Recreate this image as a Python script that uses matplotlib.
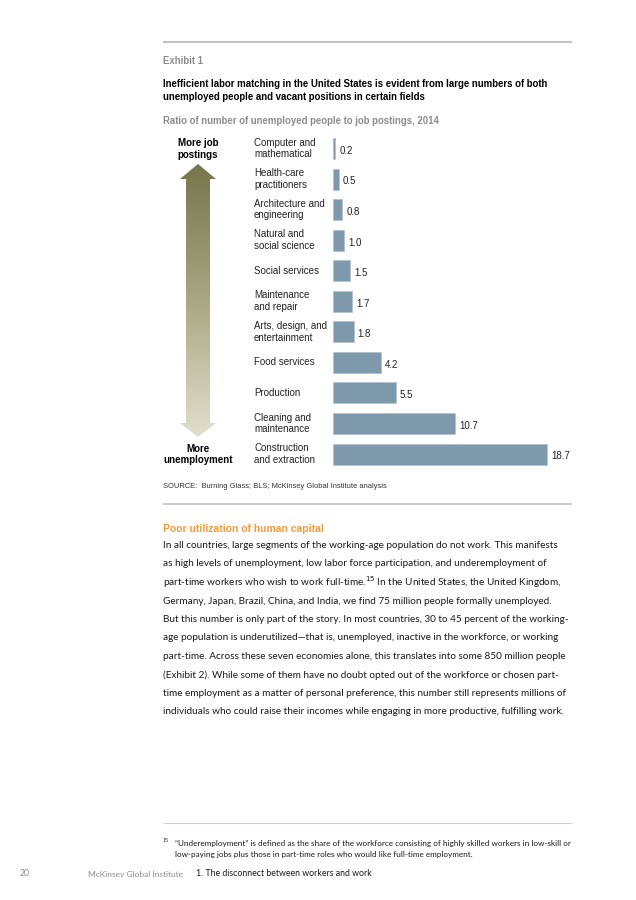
import matplotlib
matplotlib.use("Agg")
import matplotlib.pyplot as plt
import numpy as np
from matplotlib.colors import LinearSegmentedColormap
from matplotlib.patches import Polygon

plt.rcParams["font.family"] = ["Liberation Sans", "DejaVu Sans"]

# ---- data ----
CATEGORIES = [
    "Computer and\nmathematical",
    "Health-care\npractitioners",
    "Architecture and\nengineering",
    "Natural and\nsocial science",
    "Social services",
    "Maintenance\nand repair",
    "Arts, design, and\nentertainment",
    "Food services",
    "Production",
    "Cleaning and\nmaintenance",
    "Construction\nand extraction",
]
RATIOS = [0.2, 0.5, 0.8, 1.0, 1.5, 1.7, 1.8, 4.2, 5.5, 10.7, 18.7]

EXHIBIT = "Exhibit 1"
TITLE = ("Inefficient labor matching in the United States is evident from large numbers of both\n"
         "unemployed people and vacant positions in certain fields")
SUBTITLE = "Ratio of number of unemployed people to job postings, 2014"
TOP_LABEL = "More job\npostings"
BOTTOM_LABEL = "More\nunemployment"
SOURCE = "SOURCE:  Burning Glass; BLS; McKinsey Global Institute analysis"

HEADING = "Poor utilization of human capital"
BODY_LINES = [
    "In all countries, large segments of the working-age population do not work. This manifests",
    "as high levels of unemployment, low labor force participation, and underemployment of",
    "part-time workers who wish to work full-time.$^{15}$ In the United States, the United Kingdom,",
    "Germany, Japan, Brazil, China, and India, we find 75 million people formally unemployed.",
    "But this number is only part of the story. In most countries, 30 to 45 percent of the working-",
    "age population is underutilized\u2014that is, unemployed, inactive in the workforce, or working",
    "part-time. Across these seven economies alone, this translates into some 850 million people",
    "(Exhibit 2). While some of them have no doubt opted out of the workforce or chosen part-",
    "time employment as a matter of personal preference, this number still represents millions of",
    "individuals who could raise their incomes while engaging in more productive, fulfilling work.",
]
FOOTNOTE_NUM = "15"
FOOTNOTE = ("\u201cUnderemployment\u201d is defined as the share of the workforce consisting of highly skilled workers in low-skill or\n"
            "low-paying jobs plus those in part-time roles who would like full-time employment.")
PAGE_NUM = "20"
PUBLISHER = "McKinsey Global Institute"
CHAPTER = "1. The disconnect between workers and work"

BAR_COLOR = "#7e99ab"
BAR_EDGE = "#b3c3ce"
RULE_GRAY = "#c2c2c2"
TEXT_GRAY = "#8c8c8c"
ORANGE = "#f39b3c"
ARROW_DARK = "#76754c"
ARROW_LIGHT = "#e0dfcd"
BODY_FONT = ["Lato", "DejaVu Sans"]

W, H = 636, 900

fig = plt.figure(figsize=(W / 100, H / 100), dpi=100)
page = fig.add_axes([0, 0, 1, 1])
page.set_xlim(0, W)
page.set_ylim(H, 0)
page.axis("off")

# rules
page.plot([163, 572], [42, 42], color=RULE_GRAY, lw=1.5, solid_capstyle="butt")
page.plot([163, 572], [504, 504], color=RULE_GRAY, lw=1.2, solid_capstyle="butt")
page.plot([163, 572], [823, 823], color="#d0d0d0", lw=0.8, solid_capstyle="butt")

# headers
page.text(163, 61, EXHIBIT, fontsize=6.9, fontweight="bold", color=TEXT_GRAY, va="center")
page.text(163, 90.5, TITLE, fontsize=6.9, fontweight="bold", color="black",
          va="center", linespacing=1.3)
page.text(163, 121, SUBTITLE, fontsize=6.9, fontweight="bold", color=TEXT_GRAY, va="center")

# double-headed gradient arrow
arrow_pts = [(198, 164), (216, 179), (210, 179), (210, 423), (216, 423),
             (198, 437), (180, 423), (186, 423), (186, 179), (180, 179)]
poly = Polygon(arrow_pts, closed=True, facecolor="none", edgecolor="none")
page.add_patch(poly)
cmap = LinearSegmentedColormap.from_list("arrow", [ARROW_DARK, "#a9a784", ARROW_LIGHT])
grad = np.linspace(0, 1, 256).reshape(-1, 1)
img = page.imshow(grad, cmap=cmap, extent=(180, 216, 437, 164), origin="upper",
                  aspect="auto", interpolation="bilinear")
img.set_clip_path(poly)
page.set_xlim(0, W)
page.set_ylim(H, 0)

page.text(198, 149, TOP_LABEL, fontsize=7, fontweight="bold", ha="center", va="center",
          linespacing=1.2)
page.text(198, 454.5, BOTTOM_LABEL, fontsize=7, fontweight="bold", ha="center", va="center",
          linespacing=1.2)

# bar chart axes: x=0 at 333px, 11.44 px per unit; rows 30.55 px apart starting at 148.5
PX_UNIT = 11.44
ROW = 30.55
x0, y_first = 333, 148.5
n = len(CATEGORIES)
xmax = 20
ax_top = y_first - 0.5 * ROW
ax = fig.add_axes([x0 / W, 1 - (ax_top + n * ROW) / H, xmax * PX_UNIT / W, n * ROW / H])
ax.set_xlim(0, xmax)
ax.set_ylim(n - 0.5, -0.5)
ax.axis("off")
ypos = np.arange(n)
ax.barh(ypos, RATIOS, height=21 / ROW, color=BAR_COLOR, edgecolor=BAR_EDGE, linewidth=0.6)
for y, v, lab in zip(ypos, RATIOS, CATEGORIES):
    ax.text(v + 4 / PX_UNIT, y + 0.08, f"{v:.1f}", fontsize=7, va="center", ha="left",
            color="#222222")
    ax.text(-79 / PX_UNIT, y, lab, fontsize=7, va="center", ha="left", color="#222222",
            linespacing=1.2, clip_on=False)

page.text(163, 486, SOURCE, fontsize=5.4, color="#333333", va="center")

# body text
page.text(163, 529, HEADING, fontsize=7.5, fontweight="bold", color=ORANGE, va="center")
for i, line in enumerate(BODY_LINES):
    page.text(163, 545.5 + i * 18.5, line, fontsize=7.2, color="#1a1a1a", va="center",
              family=BODY_FONT)

# footnote
page.text(163, 840, FOOTNOTE_NUM, fontsize=4, color="#333333", va="center")
page.text(175, 849, FOOTNOTE, fontsize=5.85, color="#1a1a1a", va="center", linespacing=1.55,
          family=BODY_FONT)

# footer
page.text(20, 874, PAGE_NUM, fontsize=6.3, color=TEXT_GRAY, va="center", family=BODY_FONT)
page.text(88, 874, PUBLISHER, fontsize=6.0, color=TEXT_GRAY, va="center", family=BODY_FONT)
page.text(196, 874, CHAPTER, fontsize=6.3, color="#1a1a1a", va="center", family=BODY_FONT)

fig.savefig("out.png", dpi=100, facecolor="white")
